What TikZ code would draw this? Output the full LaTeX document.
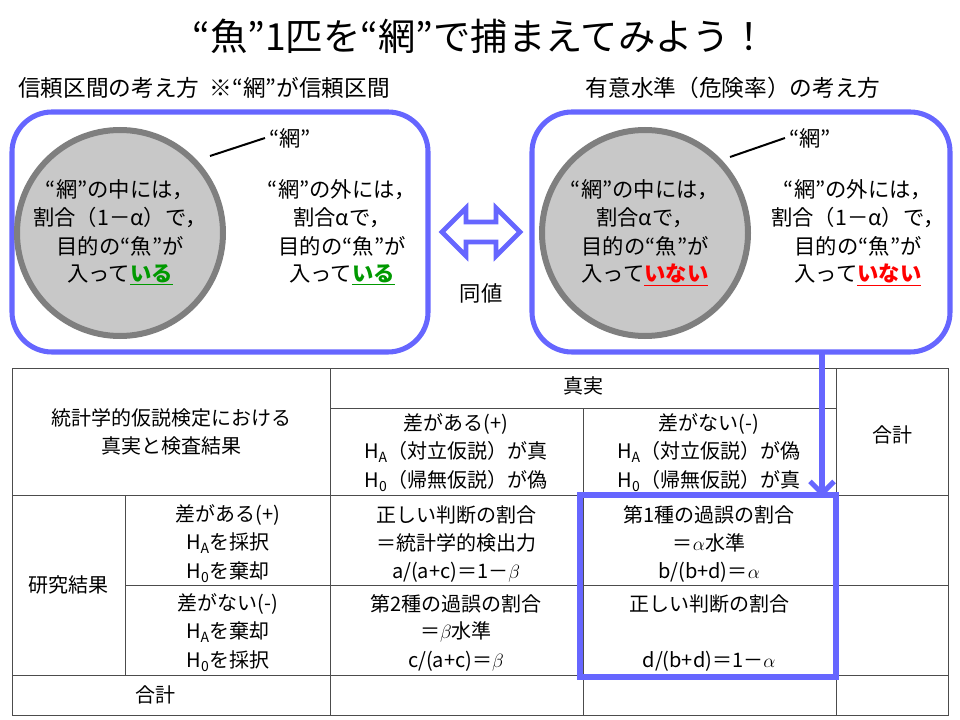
\documentclass[tikz,border=0pt]{standalone}
\usepackage{fontspec}
\setmainfont{Noto Sans CJK JP}
\usetikzlibrary{arrows.meta}
\definecolor{bl}{HTML}{6666FF}
\definecolor{cg}{HTML}{C8C8C8}
\definecolor{cd}{HTML}{7F7F7F}
\definecolor{gr}{HTML}{009900}
\begin{document}
\begin{tikzpicture}[x=0.75pt,y=-0.75pt,
 t/.style={font=\fontsize{16}{18}\selectfont,inner sep=0},
 h/.style={font=\fontsize{17}{19}\selectfont,inner sep=0},
 tb/.style={font=\fontsize{15}{17}\selectfont,inner sep=0},
 box/.style={draw=bl,line width=3.8pt,rounded corners=30pt},
 circ/.style={draw=cd,fill=cg,line width=4.5pt},
 grid/.style={draw=black!70,line width=0.6pt}]
\useasboundingbox (0,0) rectangle (960,720);
\node (title) at (480,36) {\fontsize{28}{30}\selectfont “魚”1匹を“網”で捕まえてみよう！};
\node[h,anchor=west] (hl) at (18,88) {信頼区間の考え方\ \ ※“網”が信頼区間};
\node[h] (hr) at (733,88) {有意水準（危険率）の考え方};
\draw[box] (12,112) rectangle (428,352);
\draw[box] (532,112) rectangle (950,352);
\node[circle,circ,minimum size=206*0.75pt] (c1) at (120,233) {};
\node[circle,circ,minimum size=206*0.75pt] (c2) at (645,233) {};
\node[t] (n1) at (290,138) {“網”};
\node[t] (n2) at (810,138) {“網”};
\draw[line width=1.5pt] (210,156) -- ([xshift=-3pt]n1.west);
\draw[line width=1.5pt] (730,157) -- ([xshift=-3pt]n2.west);
\foreach \x/\a/\b/\c/\d in {
 120/“網”の中には，/割合（1－α）で，/目的の“魚”が/入って{\color{gr}\underline{\textbf{いる}}},
 342/“網”の外には，/割合αで，/目的の“魚”が/入って{\color{gr}\underline{\textbf{いる}}},
 645/“網”の中には，/割合αで，/目的の“魚”が/入って{\color{red}\underline{\textbf{いない}}},
 858/“網”の外には，/割合（1－α）で，/目的の“魚”が/入って{\color{red}\underline{\textbf{いない}}}}{
 \node[t] at (\x,190) {\a};
 \node[t] at (\x,218) {\b};
 \node[t] at (\x,246) {\c};
 \node[t] at (\x,275) {\d};
}
\draw[bl,line width=3.5pt,fill=white,line join=miter] (442,232) -- (466,208) -- (466,222) -- (496,222) -- (496,208) -- (520,232) -- (496,256) -- (496,242) -- (466,242) -- (466,256) -- cycle;
\node[t] (dou) at (481,293) {同値};
\draw[grid] (12,368) rectangle (948,715);
\draw[grid] (330,368) -- (330,715);
\draw[grid] (583,408) -- (583,715);
\draw[grid] (836,368) -- (836,715);
\draw[grid] (125,495) -- (125,675);
\draw[grid] (330,408) -- (836,408);
\draw[grid] (12,495) -- (948,495);
\draw[grid] (125,585) -- (948,585);
\draw[grid] (12,675) -- (948,675);
\node[tb] at (171,418) {統計学的仮説検定における};
\node[tb] at (171,446) {真実と検査結果};
\node[tb] at (583,386) {真実};
\node[tb] at (892,435) {合計};
\node[tb] at (68,585) {研究結果};
\node[tb] at (155,695) {合計};
\foreach \x/\a/\b/\c/\y in {
 456/差がある(+)/H\textsubscript{A}（対立仮説）が真/H\textsubscript{0}（帰無仮説）が偽/424,
 709/差がない(-)/H\textsubscript{A}（対立仮説）が偽/H\textsubscript{0}（帰無仮説）が真/424,
 228/差がある(+)/H\textsubscript{A}を採択/H\textsubscript{0}を棄却/515,
 228/差がない(-)/H\textsubscript{A}を棄却/H\textsubscript{0}を採択/604,
 456/正しい判断の割合/＝統計学的検出力/{a/(a+c)＝1－$\beta$}/515,
 456/第2種の過誤の割合/＝$\beta$水準/{c/(a+c)＝$\beta$}/604,
 709/第1種の過誤の割合/＝$\alpha$水準/{b/(b+d)＝$\alpha$}/515,
 709/正しい判断の割合/{}/{d/(b+d)＝1－$\alpha$}/604}{
 \node[tb] at (\x,\y) {\a};
 \node[tb] at (\x,\y+28) {\b};
 \node[tb] at (\x,\y+57) {\c};
}
\coordinate (a0) at (822,352);
\coordinate (a1) at (822,497);
\draw[bl,line width=3.8pt] (580,495) rectangle (836,677);
\draw[bl,line width=3.8pt,-{Straight Barb[length=9pt,width=18pt]}] (a0) -- (a1);
\end{tikzpicture}
\end{document}
